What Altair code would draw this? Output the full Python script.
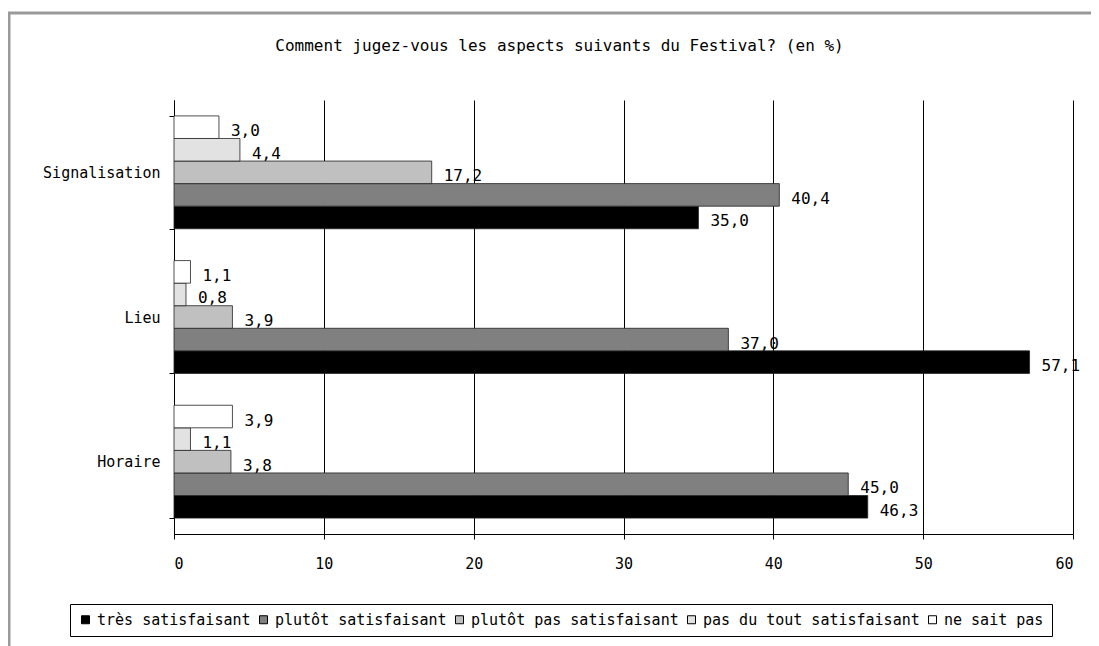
import altair as alt
import pandas as pd

categories = ["Signalisation", "Lieu", "Horaire"]
series = ["très satisfaisant", "plutôt satisfaisant", "plutôt pas satisfaisant",
          "pas du tout satisfaisant", "ne sait pas"]
tres = [35.0, 57.1, 46.3]
plutot = [40.4, 37.0, 45.0]
plutot_pas = [17.2, 3.9, 3.8]
pas_du_tout = [4.4, 0.8, 1.1]
ne_sait_pas = [3.0, 1.1, 3.9]
colors = ["#000000", "#808080", "#c0c0c0", "#e2e2e2", "#ffffff"]
x_ticks = [0, 10, 20, 30, 40, 50, 60]
title_text = "Comment jugez-vous les aspects suivants du Festival? (en %)"

rows = []
for s, vals in zip(series, [tres, plutot, plutot_pas, pas_du_tout, ne_sait_pas]):
    for c, v in zip(categories, vals):
        rows.append({"aspect": c, "reponse": s, "pct": v,
                     "label": f"{v:.1f}".replace(".", ",")})
df = pd.DataFrame(rows)

FONT = "DejaVu Sans Mono"

base = alt.Chart(df).encode(
    y=alt.Y("aspect:N", sort=categories,
            scale=alt.Scale(paddingInner=0.22, paddingOuter=0.11),
            axis=alt.Axis(title=None, tickBand="extent", tickSize=5, tickColor="#000",
                          domainColor="#000", labelFontSize=15, labelFont=FONT,
                          labelColor="#000", labelPadding=9, grid=False)),
    yOffset=alt.YOffset("reponse:N", sort=list(reversed(series))),
    x=alt.X("pct:Q", scale=alt.Scale(domain=[0, 60], nice=False),
            axis=alt.Axis(title=None, values=x_ticks, grid=True, gridColor="#000",
                          gridWidth=1, gridOpacity=1, tickSize=5, tickColor="#000",
                          domainColor="#000", labelFontSize=15, labelFont=FONT,
                          labelColor="#000", labelPadding=17)),
)

bars = base.mark_bar(stroke="#222", strokeWidth=0.8).encode(
    color=alt.Color("reponse:N", sort=series,
                    scale=alt.Scale(domain=series, range=colors),
                    legend=alt.Legend(title=None, orient="none", legendX=-104, legendY=504,
                                      direction="horizontal", strokeColor="#000",
                                      padding=8, columnPadding=5, labelFontSize=15,
                                      labelFont=FONT, labelColor="#000", labelLimit=400,
                                      symbolType="square", symbolSize=64,
                                      symbolStrokeColor="#000", symbolStrokeWidth=1,
                                      symbolOffset=0, labelOffset=4))
)

labels = base.mark_text(align="left", baseline="middle", dx=12, dy=4,
                        fontSize=16, font=FONT, color="#000").encode(text="label:N")

frame_data = alt.Data(values=[{"k": 1}])
frame_top = alt.Chart(frame_data).mark_rule(color="#9a9a9a", strokeWidth=3).encode(
    x=alt.value(-166), x2=alt.value(925), y=alt.value(-87))
frame_left = alt.Chart(frame_data).mark_rule(color="#9a9a9a", strokeWidth=3).encode(
    x=alt.value(-165), y=alt.value(-87), y2=alt.value(546))

chart = alt.layer(bars, labels, frame_top, frame_left).properties(
    width=899, height=434,
    title=alt.Title(title_text, font=FONT, fontSize=16, fontWeight="normal",
                    color="#000", dx=-64, offset=-42, frame="group"),
    padding={"left": 166, "top": 92, "right": 18, "bottom": 112},
    autosize=alt.AutoSizeParams(type="none"),
).configure_view(stroke=None)

chart.save("out.html", embed_options={"renderer": "svg", "actions": False})
